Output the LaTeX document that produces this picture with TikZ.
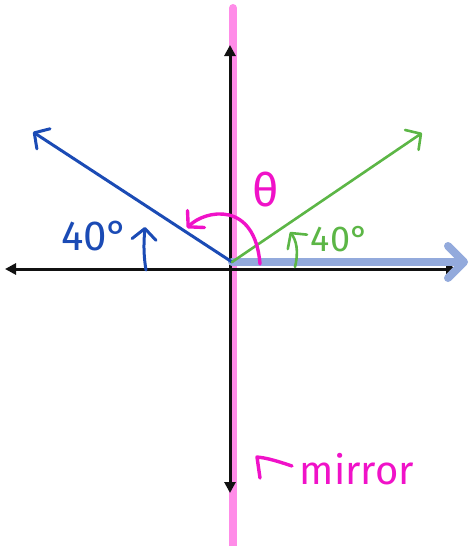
\documentclass[tikz,border=0pt]{standalone}
\usepackage{fontspec}
\setmainfont{Fira Sans}
\usepackage{xcolor}
\usepackage{tikz}
\usetikzlibrary{arrows.meta}
\definecolor{ink}{HTML}{111111}
\definecolor{mirrorpink}{HTML}{FF8CE8}
\definecolor{pen}{HTML}{F012C8}
\definecolor{rayblue}{HTML}{1B4BB5}
\definecolor{raygreen}{HTML}{5CB646}
\definecolor{bandblue}{HTML}{93AADC}
\tikzset{
  mirror/.style={draw=mirrorpink,line width=8pt,line cap=round},
  axis/.style={draw=ink,line width=3pt,{Triangle[length=11pt,width=11pt]}-{Triangle[length=11pt,width=11pt]}},
  band/.style={draw=bandblue,line width=8pt,line cap=round,-{Straight Barb[length=16pt,width=32pt,line cap=round,line join=round]}},
  barb/.style={-{Straight Barb[length=11pt,width=24pt,line cap=round,line join=round]}},
  blueray/.style={draw=rayblue,line width=3pt,line cap=round,barb},
  greenray/.style={draw=raygreen,line width=2.6pt,line cap=round,barb},
  pinkpen/.style={draw=pen,line width=3.4pt,line cap=round,line join=round},
  bluelbl/.style={text=rayblue,font=\fontsize{42}{42}\selectfont,inner sep=0pt},
  greenlbl/.style={text=raygreen,font=\fontsize{36}{36}\selectfont,inner sep=0pt},
  pinklbl/.style={text=pen,font=\fontsize{40}{40}\selectfont,inner sep=0pt}
}
\begin{document}
\begin{tikzpicture}[x=1pt,y=-1pt]
  \useasboundingbox (0,0) rectangle (472,546);
  \coordinate (O) at (232,262);
  \coordinate (mtop) at (233,8);
  \coordinate (mbot) at (233,546);
  \coordinate (xl) at (5,269);
  \coordinate (xr) at (457,269);
  \coordinate (yt) at (230,45);
  \coordinate (yb) at (230,493);
  \coordinate (bandend) at (468,262);
  \coordinate (bluetip) at (33,132);
  \coordinate (greentip) at (422,133);
  \coordinate (mtail) at (292,466);
  \coordinate (mtip) at (257,457);
  \coordinate (mhook) at (260,478);
  \draw[mirror] (mtop) -- (mbot);
  \draw[axis] (xl) -- (xr);
  \draw[axis] (yt) -- (yb);
  \draw[band] (O) -- (bandend);
  \draw[blueray] (O) -- (bluetip);
  \draw[greenray] (O) -- (greentip);
  \node[bluelbl] (blue40) at (95,236) {40°};
  \node[greenlbl] (green40) at (340,239) {40°};
  \node[pinklbl,font=\fontsize{46}{46}\selectfont] (theta) at (266,190) {θ};
  \node[pinklbl] (mirrorlbl) at (357,469) {mirror};
  \draw[draw=rayblue,line width=3pt,line cap=round,barb] (146,270) .. controls (143,252) and (144,240) .. (145,227);
  \draw[draw=raygreen,line width=2.6pt,line cap=round,barb] (295,267) .. controls (299,250) and (296,240) .. (290,232);
  \draw[pinkpen,barb] (260,264) .. controls (255,200) and (205,210) .. (187,228);
  \draw[pinkpen] (mtail) .. controls (280,462) and (268,458) .. (mtip) -- (mhook);
\end{tikzpicture}
\end{document}
